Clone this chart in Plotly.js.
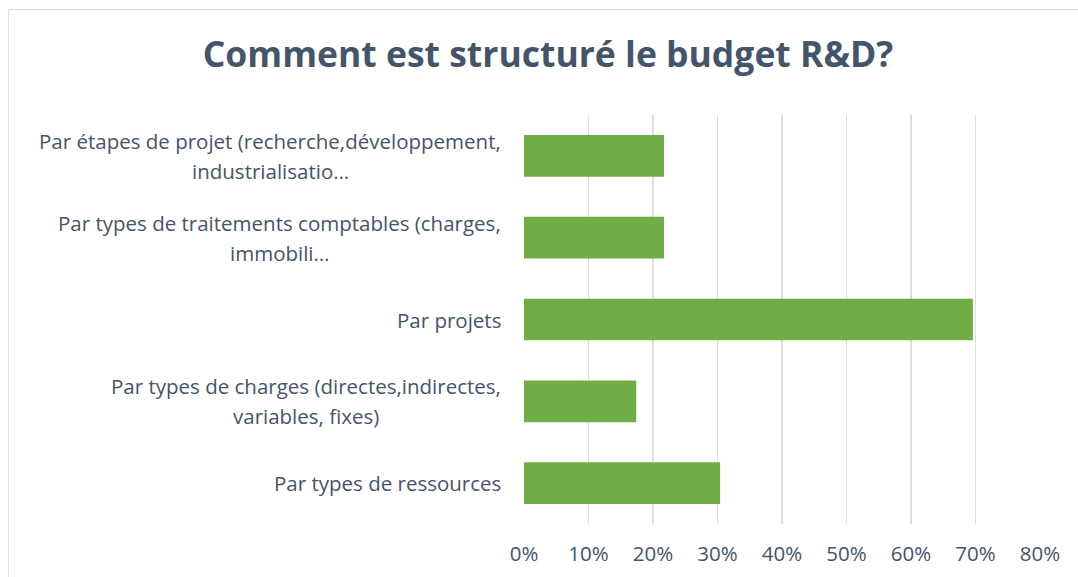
<!DOCTYPE html>
<html>
<head>
<meta charset="utf-8">
<script src="https://cdn.plot.ly/plotly-3.0.1.min.js"></script>
<style>
  html, body { margin: 0; padding: 0; background: #fff; overflow: hidden; }
  #chart { width: 1078px; height: 577px; }
  #frame { position: absolute; left: 8px; top: 9px; width: 1100px; height: 600px;
           border: 1.5px solid #DDE2EA; pointer-events: none; }
</style>
</head>
<body>
<div id="chart"></div>
<div id="frame"></div>
<script>
// ---- data ----
const categories = [
  "Par étapes de projet (recherche,développement,\nindustrialisatio…",
  "Par types de traitements comptables (charges,\nimmobili…",
  "Par projets",
  "Par types de charges (directes,indirectes,\nvariables, fixes)",
  "Par types de ressources"
];
const values = [0.217, 0.217, 0.696, 0.174, 0.304];
const tickVals = [0, 0.1, 0.2, 0.3, 0.4, 0.5, 0.6, 0.7, 0.8];
const tickText = ["0%", "10%", "20%", "30%", "40%", "50%", "60%", "70%", "80%"];
const titleText = "Comment est structuré le budget R&D?";

// ---- layout constants ----
const W = 1078, H = 577;
const plotL = 524, plotR = 1040, plotT = 115, plotB = 524;
const labelRight = 501;
const labelFont = "Open Sans";
const labelSize = 20.5;
const lineGap = 30;
const textColor = "#44546A";

const ids = categories.map((c, i) => "c" + i);

const cv = document.createElement("canvas").getContext("2d");
cv.font = labelSize + "px '" + labelFont + "'";
const annotations = [];
categories.forEach((lab, i) => {
  const lines = lab.split("\n");
  const wmax = Math.max(...lines.map(l => cv.measureText(l).width));
  const cx = labelRight - wmax / 2;
  lines.forEach((ln, j) => {
    annotations.push({
      xref: "paper", yref: "y",
      x: (cx - plotL) / (plotR - plotL), y: ids[i],
      xanchor: "center", yanchor: "middle",
      text: ln, showarrow: false,
      yshift: -(j - (lines.length - 1) / 2) * lineGap,
      font: { family: labelFont, size: labelSize, color: textColor }
    });
  });
});

const trace = {
  type: "bar", orientation: "h",
  x: values, y: ids,
  marker: { color: "#70AD47", line: { width: 0 } },
  hoverinfo: "none"
};

const layout = {
  width: W, height: H,
  margin: { l: plotL, r: W - plotR, t: plotT, b: H - plotB, pad: 0 },
  paper_bgcolor: "#fff", plot_bgcolor: "#fff",
  title: {
    text: "<b>" + titleText + "</b>",
    x: 548 / W, xanchor: "center", xref: "container",
    y: 1 - 55 / H, yanchor: "middle", yref: "container",
    font: { family: "Open Sans", size: 35.5, color: textColor }
  },
  xaxis: {
    range: [0, 0.8], tickvals: tickVals, ticktext: tickText,
    showgrid: true, gridcolor: "#DADDE3", gridwidth: 1.5,
    zeroline: false, showline: false, ticks: "",
    tickfont: { family: labelFont, size: labelSize, color: textColor },
    ticklabelstandoff: 15, fixedrange: true
  },
  yaxis: {
    type: "category", autorange: "reversed",
    showticklabels: false, showgrid: false, zeroline: false, showline: false,
    ticks: "", fixedrange: true
  },
  bargap: 0.49,
  showlegend: false,
  annotations: annotations
};

Plotly.newPlot("chart", [trace], layout, { staticPlot: true, displayModeBar: false });
</script>
</body>
</html>
